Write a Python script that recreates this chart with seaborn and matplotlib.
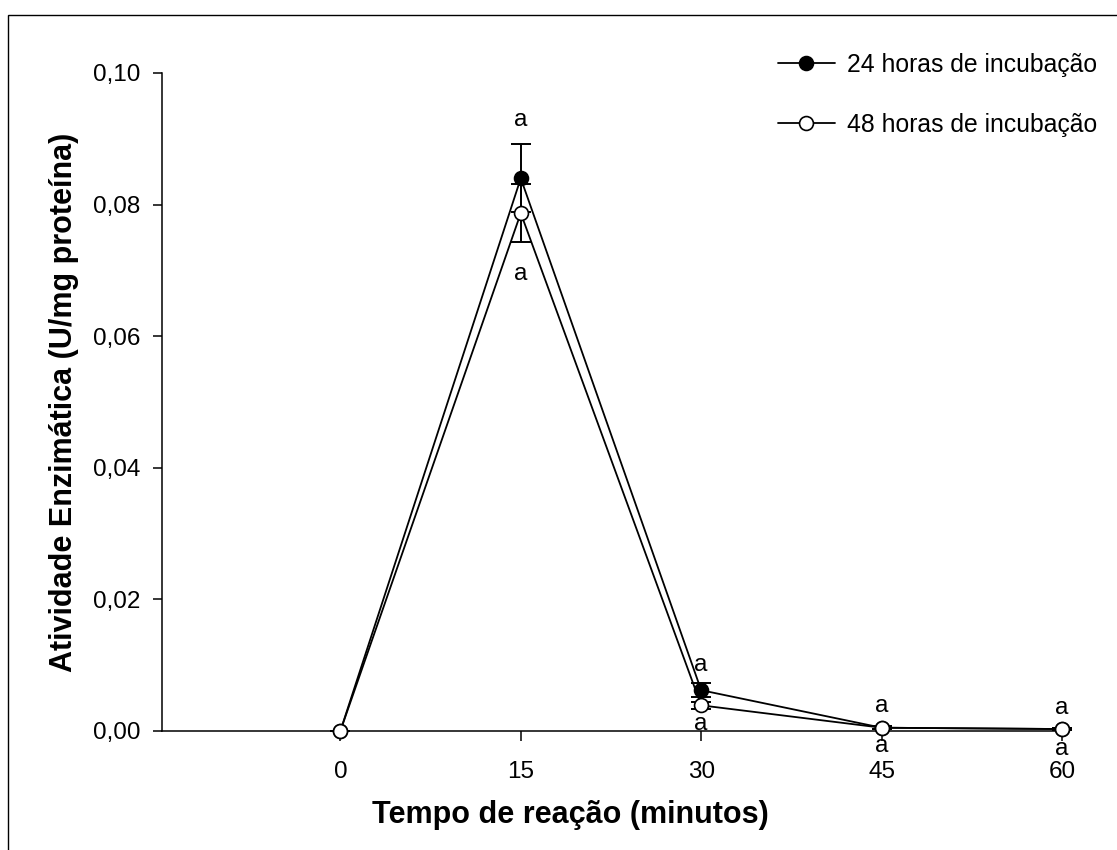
import numpy as np
import pandas as pd
import matplotlib
matplotlib.use("Agg")
import matplotlib.pyplot as plt
from matplotlib.patches import Rectangle
import seaborn as sns

# ---- data ----
tempo = [0, 15, 30, 45, 60]
serie_24h = [0.0, 0.0840, 0.0062, 0.0005, 0.0003]
erro_24h = [0.0, 0.0052, 0.0011, 0.0002, 0.0001]
serie_48h = [0.0, 0.0787, 0.0039, 0.0005, 0.0003]
erro_48h = [0.0, 0.0044, 0.0005, 0.0002, 0.0001]
letras_cima = ["", "a", "a", "a", "a"]
letras_baixo = ["", "a", "a", "a", "a"]
yticks = [0.00, 0.02, 0.04, 0.06, 0.08, 0.10]
xticks = [0, 15, 30, 45, 60]
label_24 = "24 horas de incubação"
label_48 = "48 horas de incubação"

sns.set_style("ticks")
plt.rcParams["font.family"] = ["Liberation Sans", "DejaVu Sans"]
for k in ["text.color", "axes.labelcolor", "xtick.color", "ytick.color", "axes.edgecolor"]:
    plt.rcParams[k] = "black"

W, H = 1117, 850
fig = plt.figure(figsize=(W / 100, H / 100), dpi=100)
ax = fig.add_axes([162 / W, (H - 731) / H, (1065 - 162) / W, (731 - 73) / H])

df24 = pd.DataFrame({"t": tempo, "v": serie_24h})
df48 = pd.DataFrame({"t": tempo, "v": serie_48h})

# error bars first (behind markers)
ax.errorbar(tempo, serie_24h, yerr=erro_24h, fmt="none", ecolor="black",
            elinewidth=1.4, capsize=10 * 0.72, capthick=1.4, zorder=2, clip_on=False)
ax.errorbar(tempo, serie_48h, yerr=erro_48h, fmt="none", ecolor="black",
            elinewidth=1.4, capsize=10 * 0.72, capthick=1.4, zorder=2, clip_on=False)

sns.lineplot(data=df24, x="t", y="v", ax=ax, color="black", marker="o",
             markersize=10, markerfacecolor="black", markeredgecolor="black",
             markeredgewidth=1.2, linewidth=1.3, label=label_24, zorder=4)
sns.lineplot(data=df48, x="t", y="v", ax=ax, color="black", marker="o",
             markersize=10, markerfacecolor="white", markeredgecolor="black",
             markeredgewidth=1.2, linewidth=1.3, label=label_48, zorder=5)
for ln in ax.get_lines():
    ln.set_clip_on(False)

ax.set_xlim(-14.83, 60.25)
ax.set_ylim(0, 0.10)
ax.set_xticks(xticks)
ax.set_xticklabels([str(x) for x in xticks])
ax.set_yticks(yticks)
ax.set_yticklabels([f"{v:.2f}".replace(".", ",") for v in yticks])
ax.tick_params(axis="both", labelsize=17.5, direction="out", width=1.1, color="black",
               labelcolor="black")
ax.tick_params(axis="x", length=7.5, pad=14)
ax.tick_params(axis="y", length=6.5, pad=9)
for s in ["top", "right"]:
    ax.spines[s].set_visible(False)
for s in ["left", "bottom"]:
    ax.spines[s].set_linewidth(1.1)
    ax.spines[s].set_color("black")

ax.set_xlabel("Tempo de reação (minutos)", fontsize=22, fontweight="bold", color="black")
ax.set_ylabel("Atividade Enzimática (U/mg proteína)", fontsize=22, fontweight="bold",
              color="black")
ax.xaxis.set_label_coords(0.452, -0.105)
ax.yaxis.set_label_coords(-0.092, 0.5)

# significance letters
top_vals = [max(a + ea, b + eb) for a, ea, b, eb in zip(serie_24h, erro_24h, serie_48h, erro_48h)]
bot_vals = [min(a - ea, b - eb) for a, ea, b, eb in zip(serie_24h, erro_24h, serie_48h, erro_48h)]
off_up = [0, 17, 13, 15, 15]
off_dn = [0, -23, -11, -12, -14]
for t, lt, lb, tv, bv, ou, od in zip(tempo, letras_cima, letras_baixo, top_vals, bot_vals, off_up, off_dn):
    if lt:
        ax.annotate(lt, (t, tv), xytext=(0, ou), textcoords="offset points",
                    ha="center", va="center", fontsize=17.5, annotation_clip=False)
    if lb:
        ax.annotate(lb, (t, bv), xytext=(0, od), textcoords="offset points",
                    ha="center", va="center", fontsize=17.5, annotation_clip=False)

leg = ax.legend(loc="upper left", bbox_to_anchor=(778 / W, 1 - 53 / H),
                bbox_transform=fig.transFigure, frameon=False, fontsize=17.8,
                handlelength=2.3, handletextpad=0.5, labelspacing=1.45,
                borderpad=0, borderaxespad=0)
for txt in leg.get_texts():
    txt.set_color("black")

# outer frame
fig.add_artist(Rectangle((8 / W, -0.1), 1.2, 1 - 15 / H + 0.1, transform=fig.transFigure,
                         fill=False, edgecolor="black", linewidth=1.0))

fig.savefig("out.png", dpi=100)
